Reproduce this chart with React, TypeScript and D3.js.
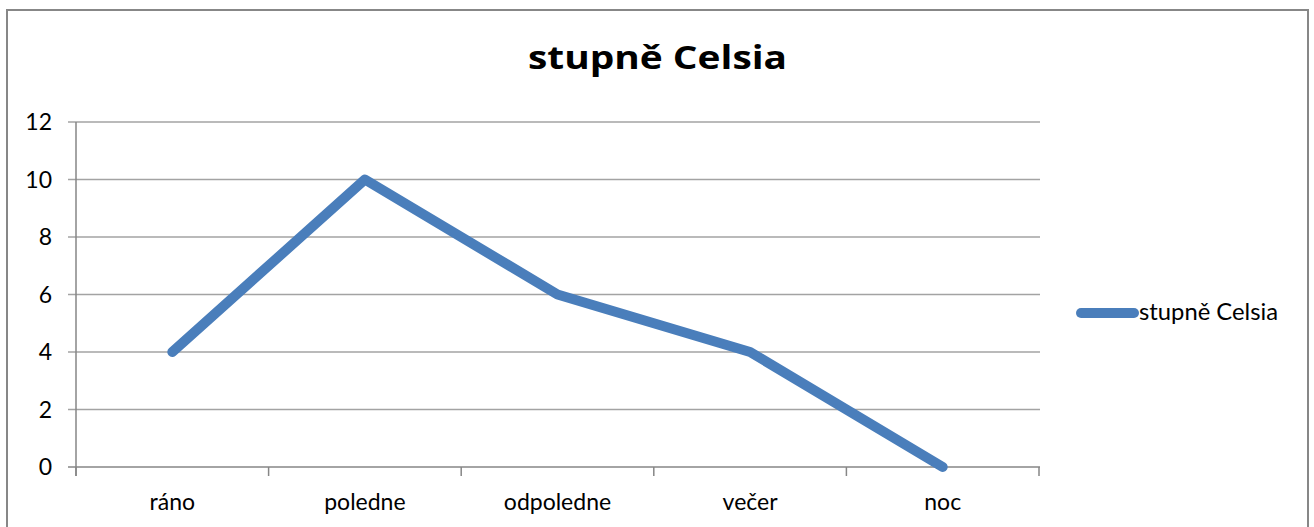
import React from "react";
import * as d3 from "d3";

const categories = ["ráno", "poledne", "odpoledne", "večer", "noc"];
const values = [4, 10, 6, 4, 0];
const yTicks = [0, 2, 4, 6, 8, 10, 12];
const seriesName = "stupně Celsia";
const title = "stupně Celsia";

const W = 1314;
const H = 527;
const plot = { left: 76, right: 1039, top: 122, bottom: 467 };
const FONT = "Lato, 'Noto Sans', sans-serif";

export default function App() {
  const x = d3
    .scaleBand<string>()
    .domain(categories)
    .range([plot.left, plot.right])
    .paddingInner(0)
    .paddingOuter(0);
  const y = d3.scaleLinear().domain([0, 12]).range([plot.bottom, plot.top]);
  const cx = (c: string) => (x(c) ?? 0) + x.bandwidth() / 2;

  const line = d3
    .line<number>()
    .x((_, i) => cx(categories[i]))
    .y((d) => y(d));

  const boundaries = categories.map((c) => x(c) ?? 0).concat([plot.right]);

  return (
    <svg
      width={W}
      height={H}
      style={{ position: "absolute", left: 0, top: 0, background: "#fff" }}
      fontFamily={FONT}
    >
      <rect x={0} y={0} width={W} height={H} fill="#fff" />
      <rect x={7} y={10} width={1301} height={560} fill="none" stroke="#878787" strokeWidth={2} />

      <text
        x={657.5}
        y={69}
        textAnchor="middle"
        fontFamily="'Open Sans', sans-serif"
        fontWeight="bold"
        fontSize={32}
        textLength={259}
        lengthAdjust="spacingAndGlyphs"
        fill="#000"
      >
        {title}
      </text>

      {yTicks.map((t) => (
        <g key={t}>
          <line
            x1={plot.left - 8}
            x2={plot.right + 1}
            y1={y(t)}
            y2={y(t)}
            stroke={t === 0 ? "#868686" : "#a3a3a3"}
            strokeWidth={1.5}
          />
          <text
            x={52}
            y={y(t)}
            dy="0.36em"
            textAnchor="end"
            fontSize={23}
            fill="#000"
          >
            {t}
          </text>
        </g>
      ))}

      <line
        x1={plot.left}
        x2={plot.left}
        y1={plot.top}
        y2={plot.bottom + 9}
        stroke="#868686"
        strokeWidth={1.5}
      />
      {boundaries.map((b, i) => (
        <line key={i} x1={b} x2={b} y1={plot.bottom} y2={plot.bottom + 9} stroke="#868686" strokeWidth={1.5} />
      ))}

      {categories.map((c) => (
        <text key={c} x={cx(c)} y={510} textAnchor="middle" fontSize={23} fill="#000">
          {c}
        </text>
      ))}

      <path
        d={line(values) ?? ""}
        fill="none"
        stroke="#4a7ebb"
        strokeWidth={10}
        strokeLinecap="round"
        strokeLinejoin="round"
      />

      <line x1={1081} x2={1134} y1={313} y2={313} stroke="#4a7ebb" strokeWidth={10} strokeLinecap="round" />
      <text x={1139} y={320} fontSize={23} fill="#000" textLength={139} lengthAdjust="spacingAndGlyphs">
        {seriesName}
      </text>
    </svg>
  );
}
